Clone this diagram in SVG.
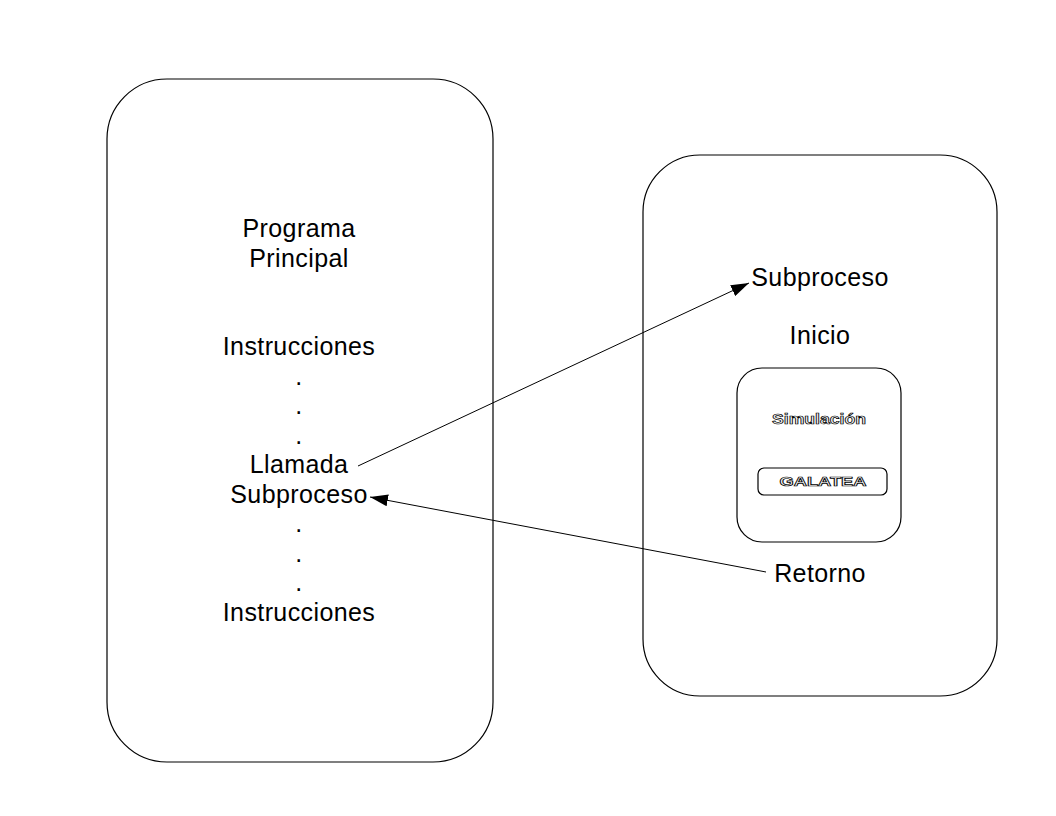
<svg xmlns="http://www.w3.org/2000/svg" width="1056" height="816" viewBox="0 0 1056 816">
<style>
.box{fill:#fff;stroke:#000;stroke-width:1.2}
.t{font-family:"Liberation Sans",Arial,sans-serif;font-size:25px;letter-spacing:0.4px;fill:#000;text-anchor:middle}
.o{font-family:"Liberation Sans",Arial,sans-serif;font-weight:bold;fill:#f4f4f4;stroke:#000;stroke-width:0.7;text-anchor:middle}
.c{fill:none;stroke:#000;stroke-width:1}
</style>
<defs>
<marker id="ah" markerUnits="userSpaceOnUse" markerWidth="20" markerHeight="12" refX="18" refY="6" orient="auto">
<path d="M0,0 L18,6 L0,12 Z" fill="#000"/>
</marker>
</defs>
<rect width="1056" height="816" fill="#fff"/>
<g id="programa-principal">
<rect class="box" x="107" y="79" width="386" height="683" rx="60" ry="60"/>
<text class="t" x="299" y="237">Programa</text>
<text class="t" x="299" y="266.5">Principal</text>
<text class="t" x="299" y="355">Instrucciones</text>
<text class="t" x="299" y="384.5">.</text>
<text class="t" x="299" y="414">.</text>
<text class="t" x="299" y="443.5">.</text>
<text class="t" x="299" y="473">Llamada</text>
<text class="t" x="299" y="502.5">Subproceso</text>
<text class="t" x="299" y="532">.</text>
<text class="t" x="299" y="561.5">.</text>
<text class="t" x="299" y="591">.</text>
<text class="t" x="299" y="620.5">Instrucciones</text>
</g>
<g id="subproceso">
<rect class="box" x="643" y="155" width="354" height="541" rx="57" ry="57"/>
<text class="t" x="820" y="286">Subproceso</text>
<text class="t" x="820" y="344">Inicio</text>
<text class="t" x="820" y="582">Retorno</text>
</g>
<g id="simulacion">
<rect class="box" x="737" y="368" width="164" height="174" rx="25" ry="25"/>
<text class="o" x="819" y="424" font-size="14" textLength="94" lengthAdjust="spacingAndGlyphs">Simulación</text>
</g>
<g id="galatea">
<rect class="box" x="758" y="468" width="129" height="27" rx="6" ry="6"/>
<text class="o" x="823" y="486" font-size="12" textLength="87" lengthAdjust="spacingAndGlyphs">GALATEA</text>
</g>
<g id="connectors">
<line class="c" x1="358" y1="466" x2="749" y2="283" marker-end="url(#ah)"/>
<line class="c" x1="766" y1="572" x2="370" y2="497" marker-end="url(#ah)"/>
</g>
</svg>
